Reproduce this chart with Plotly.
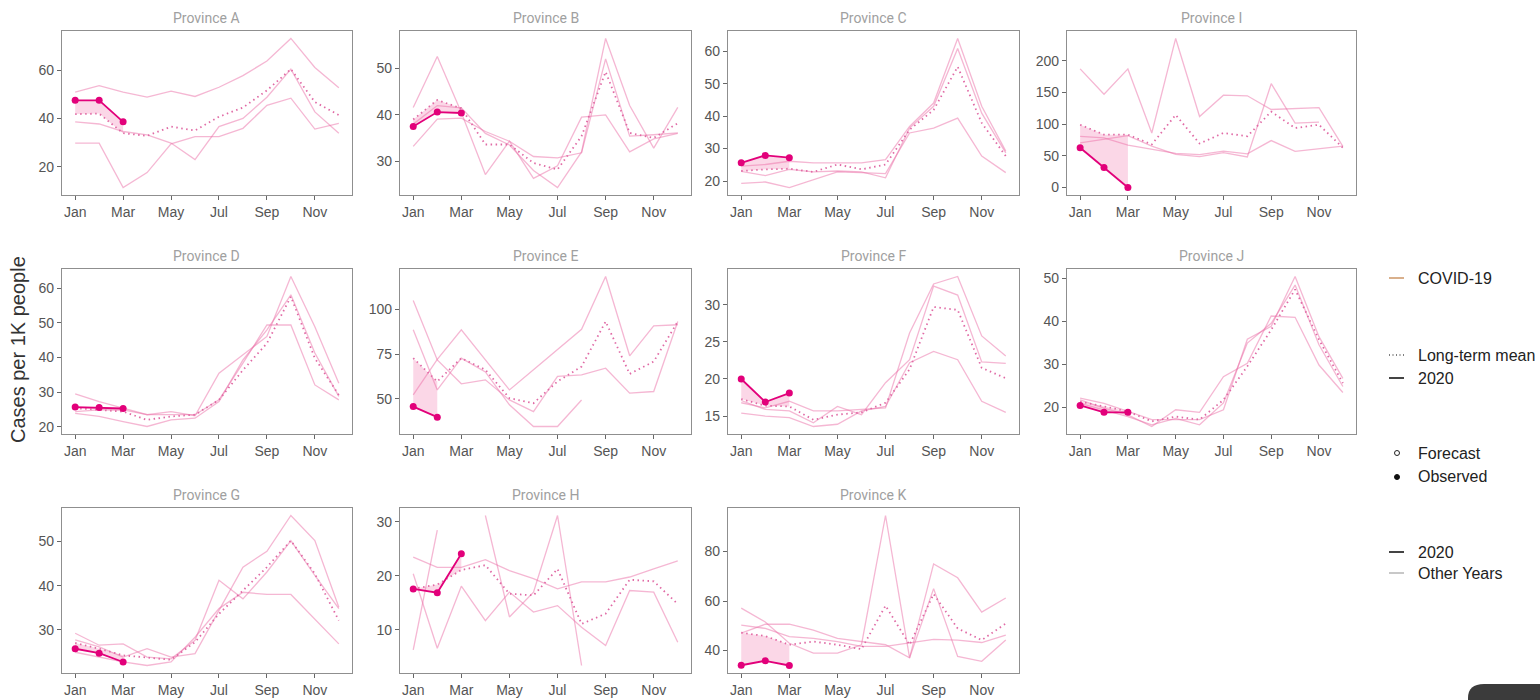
import plotly.graph_objects as go

# ---- data ----
MONTHS = list(range(1, 13))
TICK_MONTHS = [1, 3, 5, 7, 9, 11]
TICK_LABELS = ["Jan", "Mar", "May", "Jul", "Sep", "Nov"]

A_OTHER = [
    [50.9, 53.6, 50.9, 48.8, 51.3, 49.1, 52.9, 57.7, 63.8, 73.1, 61.1, 52.7],
    [38.6, 37.7, 34.6, 33.2, 29.8, 23.0, 36.6, 40.0, 48.8, 60.4, 42.7, 33.9],
    [29.8, 29.8, 11.4, 17.6, 29.5, 32.5, 32.5, 35.9, 45.4, 48.4, 35.6, 38.0],
]
A_MEAN = [41.8, 42.0, 33.9, 32.8, 36.6, 35.0, 40.7, 44.5, 51.6, 60.4, 46.8, 41.4]
A_2020 = [47.5, 47.5, 38.6]

B_OTHER = [
    [33.2, 39.1, 39.3, 36.4, 34.3, 31.0, 30.7, 31.8, 52.1, 35.4, 35.7, 36.1],
    [41.6, 52.6, 40.5, 27.1, 34.3, 26.3, 29.0, 39.5, 40.0, 32.0, 34.8, 36.0],
    [38.0, 42.0, 41.5, 36.0, 33.5, 28.0, 24.3, 32.0, 56.5, 42.0, 32.8, 41.6],
]
B_MEAN = [39.0, 43.2, 41.4, 33.6, 33.6, 29.6, 28.2, 35.4, 49.3, 36.1, 35.0, 38.2]
B_2020 = [37.5, 40.6, 40.4]

C_OTHER = [
    [24.6, 25.1, 26.1, 25.6, 25.6, 25.6, 26.6, 36.8, 44.0, 63.9, 43.0, 29.2],
    [23.0, 21.7, 23.6, 22.8, 23.1, 22.8, 21.0, 36.3, 43.0, 60.8, 40.9, 28.7],
    [19.3, 19.7, 18.0, 20.5, 22.8, 22.6, 22.3, 34.8, 36.3, 39.4, 27.7, 22.6],
]
C_MEAN = [23.1, 23.6, 23.8, 22.8, 25.1, 23.6, 25.1, 35.8, 41.9, 55.2, 37.9, 27.7]
C_2020 = [25.6, 27.9, 27.2]

I_OTHER = [
    [187, 147, 187, 86, 235, 112, 145.6, 144.6, 123, 125, 126, 65],
    [80.8, 78.2, 66.8, 60.0, 54.0, 52.0, 57.5, 53.0, 74.0, 57.0, 61.7, 65.3],
    [70.5, 75.6, 81.9, 65.3, 52.3, 48.7, 54.9, 48.2, 163.7, 101.6, 103.0, None],
]
I_MEAN = [99, 83.4, 83.4, 67.9, 114.5, 69.4, 86, 80.8, 119.7, 93.8, 99, 62.7]
I_2020 = [62.7, 31.6, 0]

D_OTHER = [
    [29.5, 27.3, 25.4, 23.5, 24.4, 23.2, 35.5, 40.8, 46.1, 63.4, 48.9, 32.6],
    [24.4, 24.9, 24.9, 23.5, 23.5, 23.5, 27.8, 38.4, 49.4, 49.4, 32.1, 27.8],
    [23.9, 23.0, 21.5, 20.1, 22.0, 22.5, 27.3, 39.3, 48.0, 58.1, 41.3, 28.8],
]
D_MEAN = [25.4, 24.9, 24.4, 22.0, 23.0, 23.5, 27.8, 36.4, 44.1, 57.6, 39.8, 29.2]
D_2020 = [25.7, 25.6, 25.3]

E_OTHER = [
    [104.8, 71.7, 58.4, 60.6, 49.4, 42.9, 62.5, 63.4, 67.1, 53.2, 54.1, 93.1],
    [88.5, 55.0, 72.7, 65.0, 46.7, 34.6, 34.6, 49.4, None, None, None, None],
    [52.2, 72.0, 88.5, 72.0, 55.0, 66.2, 77.3, 88.8, 118.2, 74.0, 90.7, 91.3],
]
E_MEAN = [72.7, 59.7, 72.7, 66.2, 50.4, 47.6, 59.7, 68.0, 93.1, 63.9, 70.8, 93.1]
E_2020 = [45.7, 39.8]

F_OTHER = [
    [16.8, 16.1, 17.0, 15.7, 15.7, 15.9, 16.1, 26.2, 32.8, 33.8, 25.8, 23.1],
    [17.1, 15.9, 15.7, 14.1, 16.3, 15.2, 19.5, 22.6, 32.5, 31.3, 22.3, 22.1],
    [15.4, 15.0, 14.8, 13.6, 13.9, 15.7, 16.3, 22.2, 23.7, 22.6, 17.0, 15.5],
]
F_MEAN = [17.3, 16.4, 16.3, 14.5, 15.2, 15.5, 16.8, 21.3, 29.7, 29.3, 21.5, 20.1]
F_2020 = [20.0, 16.9, 18.1]

J_OTHER = [
    [22.1, 20.9, 19.0, 17.1, 17.1, 17.1, 19.4, 35.8, 38.8, 50.4, 36.4, 26.7],
    [21.7, 19.8, 18.2, 15.5, 19.4, 18.8, 27.1, 30.2, 41.2, 40.9, 29.8, 23.4],
    [20.9, 19.4, 17.8, 15.9, 17.4, 15.9, 21.0, 34.9, 39.5, 48.4, 34.5, 24.8],
]
J_MEAN = [21.3, 20.2, 19.0, 16.7, 17.8, 17.1, 21.7, 29.5, 38.0, 47.4, 35.7, 25.6]
J_2020 = [20.4, 18.8, 18.8]

G_OTHER = [
    [29.2, 26.5, 26.8, 23.8, 23.4, 27.6, 41.2, 37.0, 43.1, 50.2, 42.3, 34.8],
    [27.7, 26.1, 23.8, 25.7, 23.8, 24.6, 34.4, 44.2, 47.8, 55.9, 50.2, 35.1],
    [24.9, 23.8, 22.7, 21.9, 22.7, 28.3, 34.8, 38.5, 38.0, 38.0, 32.4, 26.8],
]
G_MEAN = [27.0, 25.7, 24.2, 23.7, 23.2, 27.2, 33.6, 38.9, 44.2, 50.2, 42.7, 32.1]
G_2020 = [25.7, 24.7, 22.7]

H_OTHER = [
    [23.5, 21.6, 21.6, 23.0, 21.0, 19.5, 17.6, 18.9, 18.9, 19.8, 21.3, 22.8],
    [20.4, 6.6, 18.1, 11.7, 17.0, 13.3, 14.5, 10.5, 7.1, 17.3, 17.0, 7.7],
    [6.3, 28.5, None, 31.2, 12.4, 17.0, 31.2, 3.4, None, None, None, None],
]
H_MEAN = [17.6, 18.4, 21.1, 22.0, 16.7, 16.4, 21.3, 11.1, 13.0, 19.3, 19.0, 14.8]
H_2020 = [17.6, 16.9, 24.1]

K_OTHER = [
    [57.1, 51.5, 42.9, 38.9, 38.9, 42.3, 94.6, 37.0, 65.0, 37.6, 35.6, 44.2],
    [50.2, 48.9, 45.6, 44.9, 43.6, 41.6, 41.6, 43.2, 44.5, 44.2, 43.2, 46.2],
    [47.0, 50.6, 50.6, 48.2, 44.9, 43.6, 42.3, 37.0, 75.0, 69.4, 55.5, 61.2],
]
K_MEAN = [47.2, 45.8, 42.3, 43.6, 42.3, 40.5, 58.1, 42.3, 62.8, 48.9, 44.2, 50.9]
K_2020 = [34.0, 35.8, 33.9]

# panel order: row by row, 4 columns
PANELS = [
    ("Province A", A_OTHER, A_MEAN, A_2020, 20),
    ("Province B", B_OTHER, B_MEAN, B_2020, 10),
    ("Province C", C_OTHER, C_MEAN, C_2020, 10),
    ("Province I", I_OTHER, I_MEAN, I_2020, 50),
    ("Province D", D_OTHER, D_MEAN, D_2020, 10),
    ("Province E", E_OTHER, E_MEAN, E_2020, 25),
    ("Province F", F_OTHER, F_MEAN, F_2020, 5),
    ("Province J", J_OTHER, J_MEAN, J_2020, 10),
    ("Province G", G_OTHER, G_MEAN, G_2020, 10),
    ("Province H", H_OTHER, H_MEAN, H_2020, 10),
    ("Province K", K_OTHER, K_MEAN, K_2020, 20),
]

# ---- styling / layout ----
W, H = 1540, 700
COL_PX = [(62, 352), (400, 691), (728, 1019), (1067, 1356)]
ROW_PX = [(31, 195), (269, 434), (508, 673)]

C_2020 = "#e2007a"
C_OTHER_LINE = "rgba(236,112,168,0.5)"
C_MEAN = "#e06aa5"
C_RIBBON = "rgba(240,110,170,0.28)"
BORDER = "#8f8f8f"
TICK_FONT = dict(family="Liberation Sans, Arial, sans-serif", size=14, color="#555")


def px_x(x):
    return x / W


def px_y(y):
    return 1 - y / H


fig = go.Figure()
annotations = []

for i, (name, others, mean, obs, dtick) in enumerate(PANELS):
    n = i + 1
    xa = "x" if n == 1 else f"x{n}"
    ya = "y" if n == 1 else f"y{n}"
    row, col = divmod(i, 4)

    for yr in others:
        fig.add_trace(go.Scatter(x=MONTHS, y=yr, mode="lines", xaxis=xa, yaxis=ya,
                                 line=dict(color=C_OTHER_LINE, width=1.3),
                                 connectgaps=False, showlegend=False, hoverinfo="skip"))
    fig.add_trace(go.Scatter(x=MONTHS, y=mean, mode="lines", xaxis=xa, yaxis=ya,
                             line=dict(color=C_MEAN, width=1.8, dash="1.5px,3.5px"),
                             showlegend=False))
    k = len(obs)
    obs_m = MONTHS[:k]
    fig.add_trace(go.Scatter(x=obs_m + obs_m[::-1], y=obs + mean[:k][::-1],
                             fill="toself", fillcolor=C_RIBBON, mode="none",
                             xaxis=xa, yaxis=ya, showlegend=False, hoverinfo="skip"))
    fig.add_trace(go.Scatter(x=obs_m, y=obs, mode="lines+markers", xaxis=xa, yaxis=ya,
                             line=dict(color=C_2020, width=1.8),
                             marker=dict(color=C_2020, size=7),
                             showlegend=False))

    vals = [v for yr in others for v in yr if v is not None] + mean + obs
    lo, hi = min(vals), max(vals)
    pad = (hi - lo) * 0.05
    x0, x1 = COL_PX[col]
    y0, y1 = ROW_PX[row]
    axis_common = dict(showline=True, mirror=True, linecolor=BORDER, linewidth=1.2,
                       showgrid=False, zeroline=False, ticks="outside", ticklen=4,
                       tickcolor="#666", tickwidth=1, tickfont=TICK_FONT)
    fig.update_layout(**{
        ("xaxis" if n == 1 else f"xaxis{n}"): dict(
            domain=[px_x(x0), px_x(x1)], anchor=ya, range=[0.45, 12.55],
            tickvals=TICK_MONTHS, ticktext=TICK_LABELS, **axis_common),
        ("yaxis" if n == 1 else f"yaxis{n}"): dict(
            domain=[px_y(y1), px_y(y0)], anchor=xa, range=[lo - pad, hi + pad],
            tick0=0, dtick=dtick, **axis_common),
    })
    annotations.append(dict(text=name, xref="paper", yref="paper",
                            x=px_x((x0 + x1) / 2), y=px_y(y0), xanchor="center",
                            yanchor="bottom", yshift=3, showarrow=False,
                            font=dict(family="Roboto, sans-serif", size=14, color="#a0a0a0")))

# y axis title
annotations.append(dict(text="Cases per 1K people", xref="paper", yref="paper",
                        x=px_x(18), y=px_y(350), textangle=-90, showarrow=False,
                        xanchor="center", yanchor="middle",
                        font=dict(family="Liberation Sans, Arial, sans-serif", size=20, color="#333")))

# custom legend on the right
LEGEND_ENTRIES = [
    ("COVID-19", "line", "#d9b08c", "solid", 278),
    ("Long-term mean", "line", "#555555", "1px,2.5px", 355),
    ("2020", "line", "#444444", "solid", 378),
    ("Forecast", "open", "#222222", None, 453),
    ("Observed", "dot", "#111111", None, 477),
    ("2020", "line", "#444444", "solid", 552),
    ("Other Years", "line", "#c8c8c8", "solid", 573),
]
shapes = []
for label, kind, color, dash, ypx in LEGEND_ENTRIES:
    if kind == "line":
        shapes.append(dict(type="line", xref="paper", yref="paper",
                           x0=px_x(1389), x1=px_x(1404), y0=px_y(ypx), y1=px_y(ypx),
                           line=dict(color=color, width=2 if dash == "solid" else 1.5, dash=dash)))
    else:
        shapes.append(dict(type="circle", xref="paper", yref="paper",
                           x0=px_x(1394.5), x1=px_x(1399.5), y0=px_y(ypx + 2.5), y1=px_y(ypx - 2.5),
                           line=dict(color=color, width=1),
                           fillcolor=color if kind == "dot" else "white"))
    annotations.append(dict(text=label, xref="paper", yref="paper", x=px_x(1416), y=px_y(ypx),
                            xanchor="left", yanchor="middle", showarrow=False,
                            font=dict(family="Liberation Sans, Arial, sans-serif", size=16, color="#222")))

# dark rounded tab in the bottom-right corner of the screenshot
shapes.append(dict(type="path", xref="paper", yref="paper", layer="above",
                   path=(f"M {px_x(1468)},0 L {px_x(1468)},{px_y(698)} "
                         f"Q {px_x(1468)},{px_y(684)} {px_x(1484)},{px_y(684)} "
                         f"L 1,{px_y(684)} L 1,0 Z"),
                   fillcolor="#3b3b3b", line=dict(width=0)))

fig.update_layout(
    width=W, height=H,
    margin=dict(l=0, r=0, t=0, b=0),
    paper_bgcolor="white", plot_bgcolor="white",
    showlegend=False,
    annotations=annotations,
    shapes=shapes,
)

fig.write_html("out.html", config={"displayModeBar": False},
               post_script="document.body.style.margin='0px';")
